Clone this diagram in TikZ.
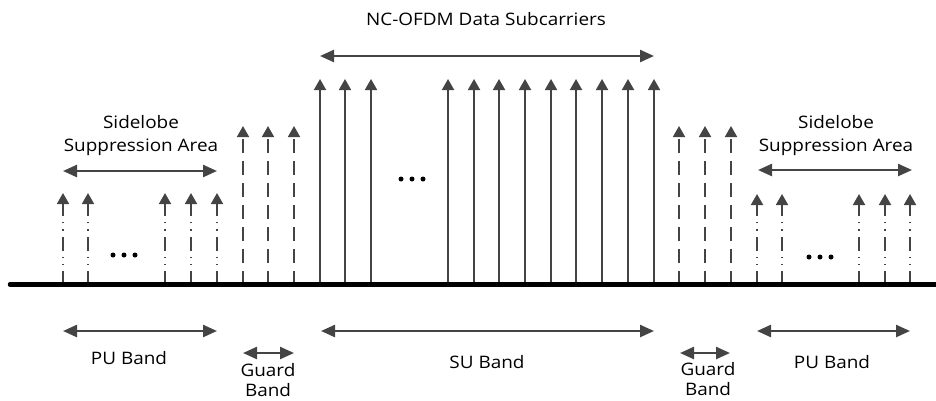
\documentclass[tikz,border=0pt]{standalone}
\usepackage{fontspec}
\setmainfont{Open Sans}[FakeStretch=1.1]
\usetikzlibrary{arrows.meta}
\definecolor{ag}{HTML}{444444}
\begin{document}
\begin{tikzpicture}[x=1pt,y=-1pt,
  carrier/.style={draw=ag, line width=1.8pt, -{Triangle[length=11pt,width=12pt]}},
  pucarrier/.style={carrier, dash pattern=on 14pt off 6pt on 1.2pt off 6pt on 1.2pt off 6pt},
  guardcarrier/.style={carrier, dash pattern=on 14pt off 8pt},
  span/.style={draw=ag, line width=2.4pt, {Triangle[length=14pt,width=12pt]}-{Triangle[length=14pt,width=12pt]}},
  lbl/.style={font=\fontsize{17.2}{23}\selectfont, inner sep=0pt, anchor=base, text=black},
  dot/.style={circle, fill=black, inner sep=0pt, minimum size=5pt}
]
\useasboundingbox (0,0) rectangle (936,400);

% carriers
\foreach \x [count=\i] in {63,88,165,191,217} {
  \coordinate (pl\i) at (\x,285);
  \draw[pucarrier] (pl\i) -- ++(0,-92);
}
\foreach \x [count=\i] in {757,782,859,885,910} {
  \coordinate (pr\i) at (\x,285);
  \draw[pucarrier] (pr\i) -- ++(0,-91);
}
\foreach \x [count=\i] in {243,268,294} {
  \coordinate (gl\i) at (\x,285);
  \draw[guardcarrier] (gl\i) -- ++(0,-159);
}
\foreach \x [count=\i] in {679,705,731} {
  \coordinate (gr\i) at (\x,285);
  \draw[guardcarrier] (gr\i) -- ++(0,-159);
}
\foreach \x [count=\i] in {320,345,371,448,474,499,525,551,576,602,628,654} {
  \coordinate (d\i) at (\x,285);
  \draw[carrier] (d\i) -- ++(0,-206);
}

% baseline
\coordinate (b0) at (10,284.5);
\coordinate (b1) at (936,284.5);
\draw[line width=4.5pt, line cap=round] (b0) -- (b1);

% ellipsis dots
\foreach \x [count=\i] in {113,124,135} \node[dot] (el\i) at (\x,255) {};
\foreach \x [count=\i] in {401,412,423} \node[dot] (em\i) at (\x,179) {};
\foreach \x [count=\i] in {809,820,831} \node[dot] (er\i) at (\x,257) {};

% span arrows
\coordinate (s1a) at (63,171);  \coordinate (s1b) at (217,171);
\coordinate (s2a) at (320,56);  \coordinate (s2b) at (654,56);
\coordinate (s3a) at (758,170); \coordinate (s3b) at (912,170);
\coordinate (u1a) at (63,331);  \coordinate (u1b) at (217,331);
\coordinate (u2a) at (243,353); \coordinate (u2b) at (294,353);
\coordinate (u3a) at (321,331); \coordinate (u3b) at (654,331);
\coordinate (u4a) at (680,353); \coordinate (u4b) at (730,353);
\coordinate (u5a) at (757,331); \coordinate (u5b) at (910,331);
\foreach \p in {s1,s2,s3,u1,u2,u3,u4,u5} \draw[span] (\p a) -- (\p b);

% labels
\node[lbl] (t0) at (486,25) {NC-OFDM Data Subcarriers};
\node[lbl] (t1) at (141,128) {Sidelobe};
\node[lbl] (t2) at (141,151) {Suppression Area};
\node[lbl] (t3) at (836,128) {Sidelobe};
\node[lbl] (t4) at (836,151) {Suppression Area};
\node[lbl] (l1) at (129,364) {PU Band};
\node[lbl] (l2) at (268,376) {Guard};
\node[lbl] (l3) at (268,396) {Band};
\node[lbl] (l4) at (487,368) {SU Band};
\node[lbl] (l5) at (708,375) {Guard};
\node[lbl] (l6) at (708,395) {Band};
\node[lbl] (l7) at (832,368) {PU Band};
\end{tikzpicture}
\end{document}
